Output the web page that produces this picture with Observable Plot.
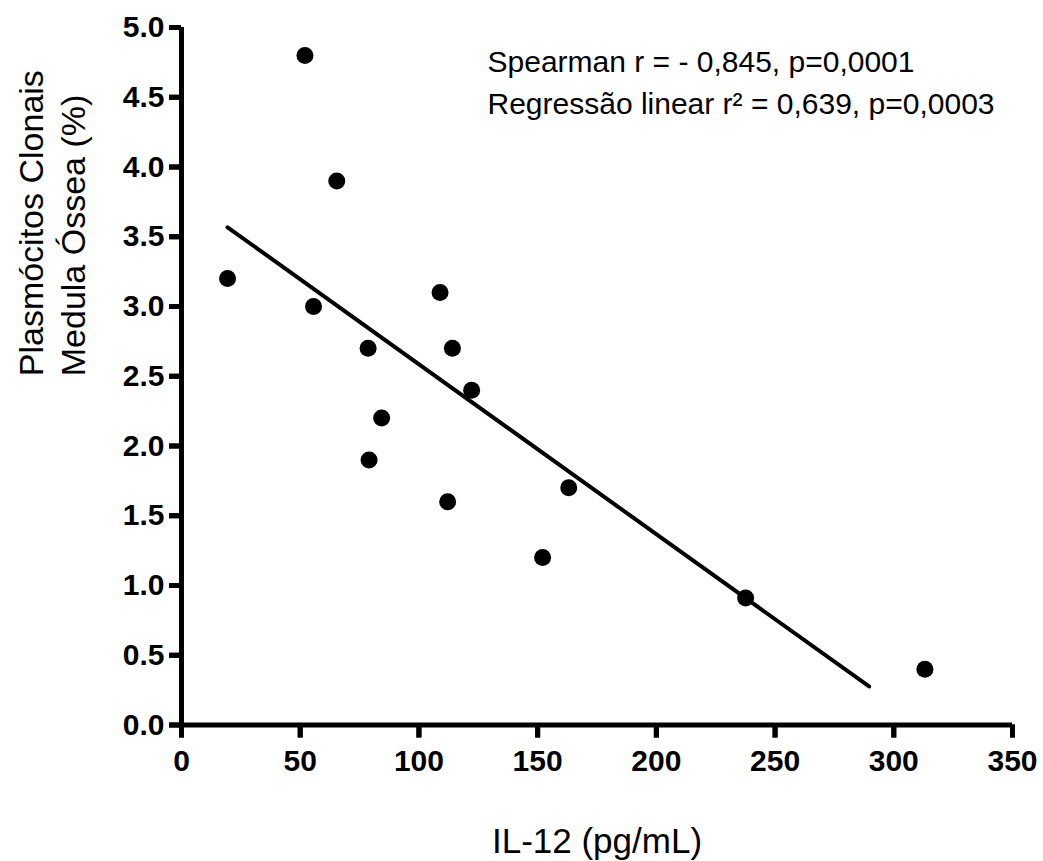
<!DOCTYPE html>
<html>
<head>
<meta charset="utf-8">
<script src="https://cdn.jsdelivr.net/npm/d3@7"></script>
<script src="https://cdn.jsdelivr.net/npm/@observablehq/plot@0.6"></script>
<style>
  html, body { margin: 0; padding: 0; background: #fff; }
</style>
</head>
<body>
<div id="chart"></div>
<script>
// IL-12 (pg/mL)
const il12 = [52.0, 65.4, 19.4, 55.6, 108.9, 78.6, 114.1, 122.2, 84.3, 79.0, 112.1, 163.1, 152.1, 237.6, 313.1];
// Plasmócitos clonais, medula óssea (%)
const plasmocitos = [4.80, 3.90, 3.20, 3.00, 3.10, 2.70, 2.70, 2.40, 2.20, 1.90, 1.60, 1.70, 1.20, 0.91, 0.40];
// regression line end points (as drawn)
const fitX = [19.4, 289.6];
const fitY = [3.568, 0.276];
const xTicks = [0, 50, 100, 150, 200, 250, 300, 350];
const yTicks = [0, 0.5, 1.0, 1.5, 2.0, 2.5, 3.0, 3.5, 4.0, 4.5, 5.0];
const xLabel = "IL-12 (pg/mL)";
const yLabel = "Plasmócitos Clonais\nMedula Óssea (%)";
const annotation = "Spearman r = - 0,845, p=0,0001\nRegressão linear r² = 0,639, p=0,0003";

const points = il12.map((x, i) => ({x, y: plasmocitos[i]}));
const fit = fitX.map((x, i) => ({x, y: fitY[i]}));

const chart = Plot.plot({
  width: 1043,
  height: 861,
  marginLeft: 181,
  marginRight: 31,
  marginTop: 27,
  marginBottom: 136.5,
  style: {fontFamily: "'Liberation Sans', Arial, sans-serif", background: "#fff", color: "#000"},
  x: {domain: [0, 350]},
  y: {domain: [0, 5]},
  marks: [
    Plot.axisX({ticks: xTicks, tickSize: 13, tickPadding: 12, strokeWidth: 5, fontSize: 30, fontWeight: "bold", label: null, tickFormat: d3.format("d")}),
    Plot.axisY({ticks: yTicks, tickSize: 12, tickPadding: 5, strokeWidth: 5, fontSize: 30, fontWeight: "bold", label: null, tickFormat: d3.format(".1f")}),
    Plot.ruleX(xTicks, {x: d => d, y1: 0, y2: 0, insetTop: 13, strokeWidth: 5, stroke: "#000"}),
    Plot.ruleY(yTicks, {y: d => d, x1: 0, x2: 0, insetLeft: -12, strokeWidth: 5, stroke: "#000"}),
    Plot.ruleY([0], {x1: 0, x2: 350, strokeWidth: 5, stroke: "#000"}),
    Plot.ruleX([0], {y1: 0, y2: 5, strokeWidth: 5, stroke: "#000"}),
    Plot.line(fit, {x: "x", y: "y", stroke: "#000", strokeWidth: 4}),
    Plot.dot(points, {x: "x", y: "y", r: 8.5, fill: "#000", stroke: "none"}),
    Plot.text([annotation], {frameAnchor: "top-left", textAnchor: "start", lineAnchor: "top", dx: 306, dy: 15, fontSize: 30, lineHeight: 1.4, fill: "#000"}),
    Plot.text([xLabel], {frameAnchor: "bottom", lineAnchor: "middle", dy: 116.5, fontSize: 35, fill: "#000"}),
    Plot.text([yLabel], {frameAnchor: "left", lineAnchor: "middle", rotate: -90, dx: -131, fontSize: 34, lineHeight: 1.24, fill: "#000"})
  ]
});
document.getElementById("chart").appendChild(chart);
</script>
</body>
</html>
